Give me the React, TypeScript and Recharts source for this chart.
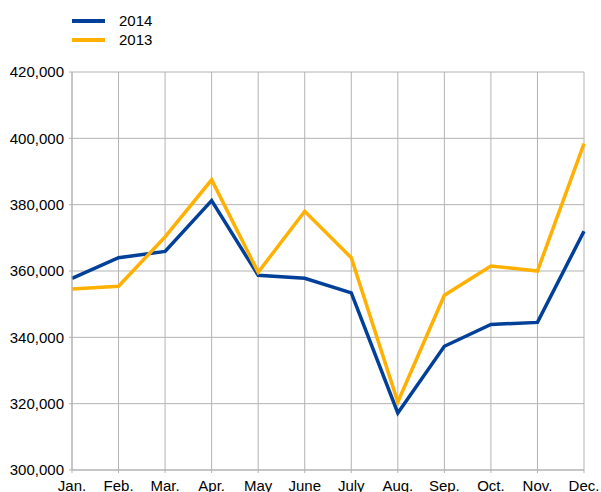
import { CartesianGrid, Line, LineChart, XAxis, YAxis } from "recharts"

const months = ["Jan.", "Feb.", "Mar.", "Apr.", "May", "June", "July", "Aug.", "Sep.", "Oct.", "Nov.", "Dec."]
const sales2014 = [357800, 364000, 365900, 381200, 358700, 357800, 353400, 317200, 337300, 343900, 344500, 372000]
const sales2013 = [354600, 355400, 370300, 387500, 359600, 378000, 364000, 320500, 352700, 361500, 360000, 398400]
const yTicks = [300000, 320000, 340000, 360000, 380000, 400000, 420000]

const data = months.map((m, i) => ({ month: m, y2014: sales2014[i], y2013: sales2013[i] }))

const BLUE = "#004099"
const ORANGE = "#ffb000"
const GRID = "#b3b3b3"
const FONT = "'Liberation Sans', Arial, sans-serif"

// legend drawn outside the chart so it doesn't push the plot down
function LegendBox() {
  const items = [
    { label: "2014", color: BLUE },
    { label: "2013", color: ORANGE },
  ]
  return (
    <div style={{ position: "absolute", left: 72, top: 11, fontFamily: FONT, fontSize: 15, color: "#000", lineHeight: "19px" }}>
      {items.map((it) => (
        <div key={it.label} style={{ display: "flex", alignItems: "center", height: 19 }}>
          <svg width={33} height={8} style={{ marginRight: 14 }}>
            <line x1={0} y1={4} x2={33} y2={4} stroke={it.color} strokeWidth={4} />
          </svg>
          <span>{it.label}</span>
        </div>
      ))}
    </div>
  )
}

export default function App() {
  return (
    <div style={{ position: "absolute", left: 0, top: 0, width: 601, height: 492, overflow: "hidden" }}>
      <LineChart width={601} height={492} data={data} margin={{ top: 72, right: 17, bottom: 0, left: 0 }}>
        <CartesianGrid stroke={GRID} strokeWidth={1} />
        <XAxis
          dataKey="month"
          scale="point"
          padding={{ left: 0, right: 0 }}
          height={22}
          stroke={GRID}
          tickSize={3}
          tickMargin={7}
          interval={0}
          tick={{ fill: "#000", fontSize: 15, fontFamily: FONT }}
        />
        <YAxis
          width={72}
          domain={[300000, 420000]}
          ticks={yTicks}
          stroke={GRID}
          tickSize={3}
          tickMargin={5}
          tickFormatter={(v: number) => v.toLocaleString("en-US")}
          tick={{ fill: "#000", fontSize: 15, fontFamily: FONT }}
        />
        <Line type="linear" dataKey="y2014" name="2014" stroke={BLUE} strokeWidth={3.5} dot={false} isAnimationActive={false} />
        <Line type="linear" dataKey="y2013" name="2013" stroke={ORANGE} strokeWidth={3.5} dot={false} isAnimationActive={false} />
      </LineChart>
      <LegendBox />
    </div>
  )
}
